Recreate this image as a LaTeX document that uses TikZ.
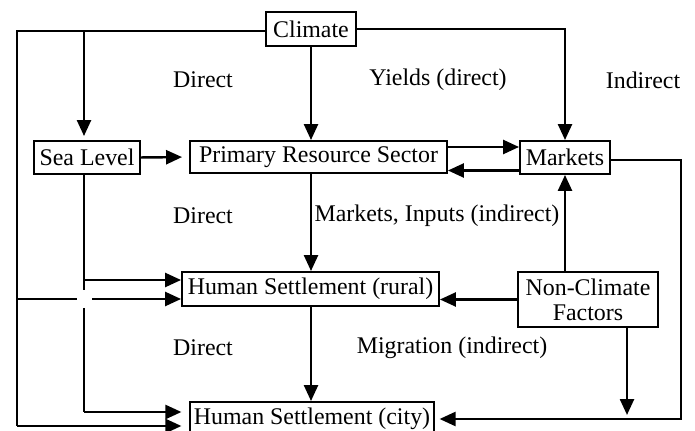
\documentclass[tikz,border=0pt]{standalone}
\usepackage{fontspec}
\setmainfont{Liberation Serif}
\usetikzlibrary{arrows.meta, positioning, calc}
\tikzset{
  fbox/.style={draw, line width=1.1pt, inner sep=2pt, align=center,
               font=\fontsize{13.6}{14.2}\selectfont},
  lbl/.style={font=\fontsize{13.6}{14.2}\selectfont},
  arr/.style={-{Triangle[length=0.32cm,width=0.28cm]}, line width=1.4pt},
  ln/.style={line width=1.3pt},
}

\begin{document}
\begin{tikzpicture}[x=0.02cm, y=-0.02cm]
  \useasboundingbox (0,0) rectangle (695,431);
  % Boxes
  \node[fbox, minimum width=1.8cm, minimum height=0.68cm] (clim) at (311,29) {Climate};
  \node[fbox, minimum width=2.12cm, minimum height=0.66cm] (sea) at (87,157.5) {Sea Level};
  \node[fbox, minimum width=5.14cm, minimum height=0.64cm] (prim) at (318.5,157) {Primary Resource Sector};
  \node[fbox, minimum width=1.8cm, minimum height=0.66cm] (mkt) at (565,157.5) {Markets};
  \node[fbox, minimum width=5.14cm, minimum height=0.68cm] (rural) at (310.5,289) {Human Settlement (rural)};
  \node[fbox, minimum width=2.8cm, minimum height=1.1cm] (nonc) at (588,299.5) {Non-Climate\\Factors};
  \node[fbox, minimum width=4.84cm, minimum height=0.68cm] (city) at (312,419) {Human Settlement (city)};
  % Labels
  \node[lbl] (l1) at (203,80) {Direct};
  \node[lbl] (l2) at (438,80) {Yields (direct)};
  \node[lbl] (l3) at (643,80) {Indirect};
  \node[lbl] (l4) at (203,216) {Direct};
  \node[lbl] (l5) at (437,216) {Markets, Inputs (indirect)};
  \node[lbl] (l6) at (203,348) {Direct};
  \node[lbl] (l7) at (452,348) {Migration (indirect)};
  % Junctions
  \coordinate (tl) at (17,31);
  \coordinate (bl) at (17,426);
  \coordinate (sl) at (84,31);
  \coordinate (sb) at (84,412);
  \coordinate (mr) at (681,419);
  \coordinate (nb) at (627,415);
  % Climate
  \draw[ln] (clim.west |- tl) -- (tl) -- (bl);
  \draw[arr] (bl) -- ([shift={(-0.16cm,0)}]city.west |- bl);
  \draw[arr, shorten >=0.08cm] (sl) -- (sl |- sea.north);
  \draw[arr] (clim.south) -- (clim.south |- prim.north);
  \draw[arr] (clim.east) -| (mkt.north);
  % Sea level
  \draw[arr, shorten >=0.14cm] (sea.east) -- (prim.west);
  \draw[ln] (sea.south -| sl) -- (84,290);
  \draw[ln] (84,308) -- (sb);
  \draw[arr, shorten >=0.16cm] (sb) -- (sb -| city.west);
  \draw[arr] (84,280) -- (84,280 -| rural.west);
  \draw[ln] (17,299) -- (77,299);
  \draw[arr] (92,299) -- (92,299 -| rural.west);
  % Primary sector and markets
  \draw[arr] ([yshift=0.2cm]prim.east) -- ([yshift=0.2cm]prim.east -| mkt.west);
  \draw[arr] ([yshift=-0.26cm]mkt.west) -- ([yshift=-0.26cm]mkt.west -| prim.east);
  \draw[arr] (clim.south |- prim.south) -- (clim.south |- rural.north);
  \draw[arr] (clim.south |- rural.south) -- (clim.south |- city.north);
  \draw[arr, shorten >=0.1cm] ([yshift=-0.05cm]mkt.east) -- ([yshift=-0.05cm]mkt.east -| mr) -- (mr) -- (mr -| city.east);
  % Non-climate factors
  \draw[arr] (nonc.north -| mkt.north) -- (mkt.south);
  \draw[arr] (nonc.west) -- (nonc.west -| rural.east);
  \draw[arr] (nonc.south -| nb) -- (nb);
\end{tikzpicture}
\end{document}
